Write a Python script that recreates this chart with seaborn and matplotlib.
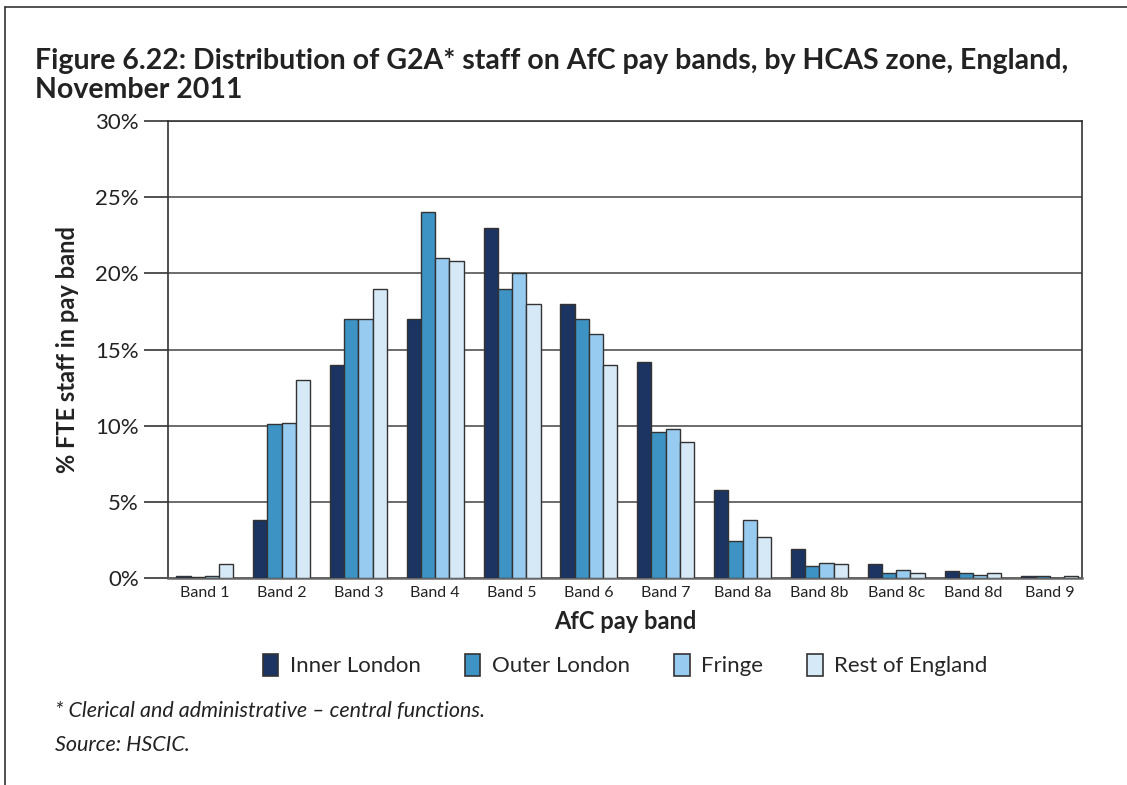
import pandas as pd
import numpy as np
import seaborn as sns
import matplotlib.pyplot as plt
from matplotlib.patches import Patch
from matplotlib.lines import Line2D

bands = ["Band 1", "Band 2", "Band 3", "Band 4", "Band 5", "Band 6",
         "Band 7", "Band 8a", "Band 8b", "Band 8c", "Band 8d", "Band 9"]
zones = ["Inner London", "Outer London", "Fringe", "Rest of England"]

inner_london = [0.15, 3.8, 14.0, 17.0, 23.0, 18.0, 14.2, 5.8, 1.9, 0.9, 0.45, 0.15]
outer_london = [0.06, 10.1, 17.0, 24.0, 19.0, 17.0, 9.6, 2.4, 0.8, 0.3, 0.3, 0.15]
fringe = [0.15, 10.2, 17.0, 21.0, 20.0, 16.0, 9.8, 3.8, 1.0, 0.5, 0.2, 0.03]
rest_of_england = [0.9, 13.0, 19.0, 20.8, 18.0, 14.0, 8.9, 2.7, 0.9, 0.3, 0.3, 0.15]

colours = ["#1b3462", "#3e93c5", "#97cbef", "#d6e9f7"]

df = pd.DataFrame({
    "band": bands * 4,
    "zone": np.repeat(zones, len(bands)),
    "pct": inner_london + outer_london + fringe + rest_of_england,
})

sns.set_style("white")
plt.rcParams['font.family'] = ['Lato', 'DejaVu Sans']

fig = plt.figure(figsize=(11.27, 7.85), dpi=100)
ax = fig.add_axes([168 / 1127, 1 - 578 / 785, (1082 - 168) / 1127, (578 - 121) / 785])

sns.barplot(data=df, x="band", y="pct", hue="zone", order=bands, hue_order=zones,
            palette=colours, saturation=1, width=0.74, edgecolor="#333333", linewidth=1.0,
            legend=False, ax=ax, zorder=3)

ax.set_ylim(0, 30)
ax.set_xlim(-0.48, 11.42)
ax.set_yticks(range(0, 31, 5))
ax.set_yticklabels([f"{v}%" for v in range(0, 31, 5)], fontsize=16, color="#222222")
ax.tick_params(axis="y", length=17, width=1.2, color="#333333", pad=4, left=True)
ax.tick_params(axis="x", length=0, labelsize=11.5, labelcolor="#222222", pad=6)
ax.yaxis.grid(True, color="#444444", linewidth=1.1, zorder=0)
ax.set_axisbelow(True)
for side in ["left", "right", "top", "bottom"]:
    ax.spines[side].set_visible(True)
    ax.spines[side].set_color("#333333")
    ax.spines[side].set_linewidth(1.2)
ax.spines["bottom"].set_color("#666666")
ax.spines["bottom"].set_linewidth(1.8)

ax.set_xlabel("AfC pay band", fontsize=17, fontweight="bold", color="#222222", labelpad=7)
ax.set_ylabel("% FTE staff in pay band", fontsize=17, fontweight="bold", color="#222222", labelpad=12)

fig.text(35 / 1127, 1 - 48 / 785,
         "Figure 6.22: Distribution of G2A* staff on AfC pay bands, by HCAS zone, England,\nNovember 2011",
         fontsize=20.5, fontweight="bold", color="#222222", va="top", ha="left", linespacing=1.12)

handles = [Patch(facecolor=c, edgecolor="#333333", linewidth=1.2) for c in colours]
fig.legend(handles, zones, loc="center", bbox_to_anchor=(625 / 1127, 1 - 665 / 785), ncol=4,
           frameon=False, fontsize=16, handlelength=0.7, handleheight=1.2,
           handletextpad=0.5, columnspacing=2.0)

fig.text(55 / 1127, 1 - 711 / 785, "* Clerical and administrative \u2013 central functions.",
         fontsize=15.5, style="italic", color="#222222", va="center")
fig.text(55 / 1127, 1 - 745 / 785, "Source: HSCIC.",
         fontsize=15.5, style="italic", color="#222222", va="center")

fig.add_artist(Line2D([5 / 1127, 1], [1 - 7 / 785, 1 - 7 / 785], color="#333333", linewidth=1.2))
fig.add_artist(Line2D([5 / 1127, 5 / 1127], [0, 1 - 7 / 785], color="#333333", linewidth=1.2))

fig.savefig("out.png", dpi=100)
